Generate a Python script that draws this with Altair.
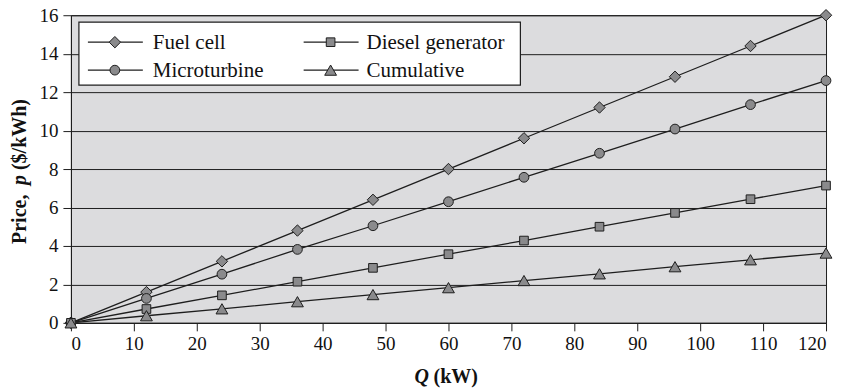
import altair as alt
import pandas as pd

# ---- data ----
q_kw = [0, 12, 24, 36, 48, 60, 72, 84, 96, 108, 120]
fuel_cell = [0, 1.6, 3.2, 4.8, 6.4, 8.0, 9.6, 11.2, 12.8, 14.4, 16.0]
microturbine = [0, 1.27, 2.53, 3.82, 5.05, 6.3, 7.57, 8.82, 10.08, 11.35, 12.6]
diesel_generator = [0, 0.72, 1.43, 2.14, 2.86, 3.57, 4.28, 5.0, 5.72, 6.43, 7.14]
cumulative = [0, 0.37, 0.73, 1.1, 1.47, 1.83, 2.2, 2.55, 2.92, 3.28, 3.63]

series_order = ["Fuel cell", "Microturbine", "Diesel generator", "Cumulative"]
series_values = {
    "Fuel cell": fuel_cell,
    "Microturbine": microturbine,
    "Diesel generator": diesel_generator,
    "Cumulative": cumulative,
}
series_shapes = {
    "Fuel cell": ("diamond", 130),
    "Microturbine": ("circle", 95),
    "Diesel generator": ("square", 75),
    "Cumulative": ("triangle-up", 140),
}
x_ticks = list(range(0, 121, 10))
y_ticks = list(range(0, 17, 2))

rows = []
for name in series_order:
    for qv, pv in zip(q_kw, series_values[name]):
        rows.append({"Q": qv, "price": pv, "series": name})
df = pd.DataFrame(rows)

FONT = "Liberation Serif"
INK = "#1e1e1e"
MARK_FILL = "#8a8a8c"

x_enc = alt.X("Q:Q", scale=alt.Scale(domain=[0, 120], nice=False, zero=False),
              axis=alt.Axis(values=x_ticks, title=None, grid=False))
y_enc = alt.Y("price:Q", scale=alt.Scale(domain=[0, 16], nice=False),
              axis=alt.Axis(values=y_ticks, title=None, grid=True))

base = alt.Chart(df)

lines = base.mark_line(color=INK, strokeWidth=1.3).encode(
    x=x_enc, y=y_enc, detail="series:N", order="Q:Q"
)

point_layers = []
for name in series_order:
    shp, sz = series_shapes[name]
    point_layers.append(
        base.transform_filter(alt.datum.series == name).mark_point(
            shape=shp, size=sz, filled=True, fill=MARK_FILL, stroke=INK,
            strokeWidth=1, opacity=1,
        ).encode(x=x_enc, y=y_enc)
    )

# ---- legend box (inset, top-left of the plot, two columns) ----
legend_box = alt.Chart(pd.DataFrame({"k": [0]})).mark_rect(
    fill="white", stroke=INK, strokeWidth=1.2
).encode(x=alt.value(8), x2=alt.value(450), y=alt.value(7), y2=alt.value(70))

legend_layers = [legend_box]
slots = {  # (line start, marker centre, line end, label x, row y) in legend pixels
    "Fuel cell": (17, 44, 72, 82, 27),
    "Microturbine": (17, 44, 72, 82, 55),
    "Diesel generator": (233, 260, 288, 296, 27),
    "Cumulative": (233, 260, 288, 296, 55),
}
for name in series_order:
    x0, xm, x1, xl, yy = slots[name]
    shp, sz = series_shapes[name]
    one = alt.Chart(pd.DataFrame({"label": [name]}))
    legend_layers.append(
        one.mark_rule(color=INK, strokeWidth=1.3).encode(
            x=alt.value(x0), x2=alt.value(x1), y=alt.value(yy))
    )
    legend_layers.append(
        one.mark_point(shape=shp, size=sz, filled=True, fill=MARK_FILL,
                       stroke=INK, strokeWidth=1, opacity=1).encode(
            x=alt.value(xm), y=alt.value(yy))
    )
    legend_layers.append(
        one.mark_text(font=FONT, fontSize=21, color="#111", align="left",
                      baseline="middle").encode(
            text="label:N", x=alt.value(xl), y=alt.value(yy + 1))
    )

# axis titles with italic variable letters
def txt(s, x, y, italic=False, angle=0):
    return alt.Chart(pd.DataFrame({"t": [s]})).mark_text(
        font=FONT, fontSize=20, fontWeight="bold",
        fontStyle="italic" if italic else "normal",
        align="left", baseline="middle", angle=angle, color="#111",
    ).encode(text="t:N", x=alt.value(x), y=alt.value(y))

xt1 = txt("Q", 344, 362, italic=True)
xt2 = txt("(kW)", 363, 362)
yt1 = txt("Price,", -51, 229, angle=270)
yt2 = txt("p", -51, 170, italic=True, angle=270)
yt3 = txt("($/kWh)", -51, 155, angle=270)

chart = alt.layer(lines, *point_layers, *legend_layers, xt1, xt2, yt1, yt2, yt3).properties(
    width=756, height=308,
    autosize=alt.AutoSizeParams(type="none"),
    padding={"left": 63, "top": 7, "right": 14, "bottom": 66},
).configure_view(
    fill="#dcdcde", stroke=INK, strokeWidth=1
).configure_axis(
    labelFont=FONT, labelFontSize=19, labelColor="#111",
    domainColor=INK, tickColor=INK, tickSize=8, tickWidth=1,
    gridColor=INK, gridWidth=1, gridOpacity=1,
).configure_axisX(labelPadding=4).configure_axisY(labelPadding=5)

chart.save("out.html", embed_options={"renderer": "svg", "actions": False})
